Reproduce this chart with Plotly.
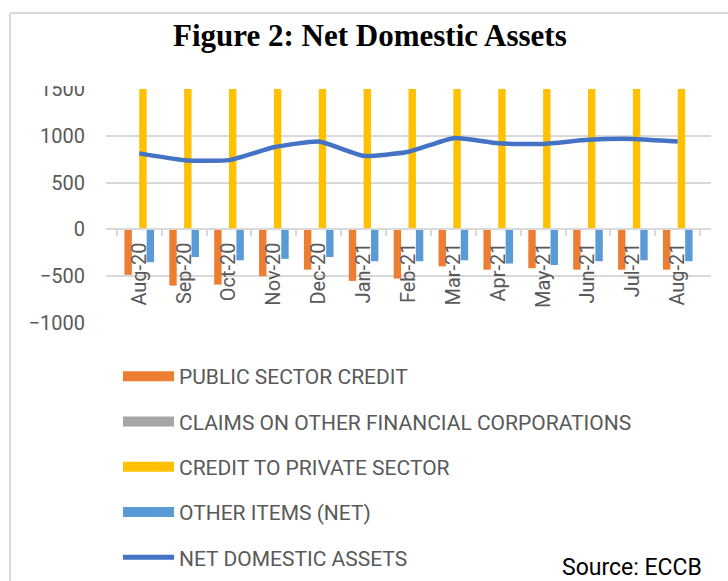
import plotly.graph_objects as go

# ---------------- data ----------------
months = ["Aug-20", "Sep-20", "Oct-20", "Nov-20", "Dec-20", "Jan-21", "Feb-21",
          "Mar-21", "Apr-21", "May-21", "Jun-21", "Jul-21", "Aug-21"]
public_sector_credit = [-485, -600, -590, -500, -430, -550, -525, -395, -430, -415, -430, -430, -430]
claims_other_fin = [3, 3, 3, 3, 3, 3, 3, 3, 3, 3, 3, 3, 3]
credit_private = [1650, 1630, 1660, 1690, 1660, 1675, 1695, 1700, 1715, 1708, 1727, 1727, 1708]
other_items = [-350, -295, -330, -315, -295, -340, -340, -330, -365, -380, -340, -330, -340]
net_domestic_assets = [812, 740, 740, 877, 938, 786, 829, 975, 920, 913, 957, 967, 938]
y_ticks = [-1000, -500, 0, 500, 1000, 1500]

# ---------------- layout geometry ----------------
W, H = 728, 581
ML, MR, MT, MB = 106, 17, 89, 258
PW, PH = W - ML - MR, H - MT - MB


def px(x):
    return (x - ML) / PW


def py(y):
    return (H - MB - y) / PH


C_PUB = "#ED7D31"
C_CLM = "#A5A5A5"
C_PRV = "#FFC000"
C_OTH = "#5B9BD5"
C_NDA = "#4472C4"
GRID = "#D9D9D9"
TXT = "#595959"
FONT = "Roboto"

fig = go.Figure()
bar_series = [
    ("PUBLIC SECTOR CREDIT", public_sector_credit, C_PUB),
    ("CLAIMS ON OTHER FINANCIAL CORPORATIONS", claims_other_fin, C_CLM),
    ("CREDIT TO PRIVATE SECTOR", credit_private, C_PRV),
    ("OTHER ITEMS (NET)", other_items, C_OTH),
]
for name, vals, col in bar_series:
    fig.add_trace(go.Bar(x=months, y=vals, name=name, marker=dict(color=col, line=dict(width=0)),
                         showlegend=False))

fig.add_trace(go.Scatter(x=months, y=net_domestic_assets, mode="lines", name="NET DOMESTIC ASSETS",
                         line=dict(color=C_NDA, width=4.5, shape="spline", smoothing=0.5),
                         showlegend=False))

# invisible carrier for the category axis drawn at the zero line
fig.add_trace(go.Scatter(x=months, y=net_domestic_assets, xaxis="x2", mode="markers",
                         marker=dict(size=0, opacity=0), hoverinfo="skip", showlegend=False))

# legend entries (wide rectangles like the original)
for i, (name, vals, col) in enumerate(bar_series):
    fig.add_trace(go.Scatter(x=[None], y=[None], mode="lines", name=name,
                             line=dict(color=col, width=13), legendgroup=f"g{i}",
                             legendrank=i + 1))
fig.add_trace(go.Scatter(x=[None], y=[None], mode="lines", name="NET DOMESTIC ASSETS",
                         line=dict(color=C_NDA, width=5), legendgroup="g4", legendrank=5))

fig.update_layout(
    width=W, height=H, autosize=False,
    margin=dict(l=ML, r=MR, t=MT, b=MB, pad=0, autoexpand=False),
    paper_bgcolor="white", plot_bgcolor="white",
    barmode="group", bargap=0.34, bargroupgap=0,
    font=dict(family=FONT, color=TXT, size=20),
    showlegend=True,
    legend=dict(x=px(118), y=py(356), xanchor="left", yanchor="top",
                orientation="v", itemwidth=51, tracegroupgap=15,
                font=dict(family=FONT, size=21, color=TXT),
                bgcolor="rgba(0,0,0,0)", borderwidth=0),
    xaxis=dict(type="category", showgrid=False, showline=False, ticks="",
               showticklabels=False, zeroline=False),
    xaxis2=dict(type="category", overlaying="x", matches="x", anchor="free", position=0.4,
                showgrid=False, showline=True, linecolor=GRID, linewidth=2,
                ticks="outside", tickson="boundaries", ticklen=6, tickcolor=GRID, tickwidth=2,
                tickangle=-90, ticklabelstandoff=4,
                tickfont=dict(family=FONT, size=20, color=TXT),
                zeroline=False),
    yaxis=dict(range=[-1000, 1500], tickvals=y_ticks, showgrid=True, gridcolor=GRID,
               gridwidth=2, zeroline=False, showline=False, ticks="",
               ticklabelstandoff=20,
               tickfont=dict(family=FONT, size=20, color=TXT)),
)

# title
fig.add_annotation(text="<b>Figure 2: Net Domestic Assets</b>", xref="paper", yref="paper",
                   x=px(369.5), y=py(36), xanchor="center", yanchor="middle", showarrow=False,
                   font=dict(family="Liberation Serif", size=31, color="black"))
# source
fig.add_annotation(text="Source: ECCB", xref="paper", yref="paper",
                   x=px(704), y=py(567), xanchor="right", yanchor="middle", showarrow=False,
                   font=dict(family=FONT, size=23, color="black"))

# frame (top and left edges) and clip of the top tick label
fig.add_shape(type="rect", xref="paper", yref="paper", x0=px(20), x1=px(102), y0=py(86), y1=py(60),
              fillcolor="white", line=dict(width=0), layer="above")
fig.add_shape(type="line", xref="paper", yref="paper", x0=px(10), x1=px(730), y0=py(13), y1=py(13),
              line=dict(color=GRID, width=2), layer="above")
fig.add_shape(type="line", xref="paper", yref="paper", x0=px(10), x1=px(10), y0=py(13), y1=py(585),
              line=dict(color=GRID, width=2), layer="above")

fig.write_html("out.html", config={"displayModeBar": False},
               post_script="document.body.style.margin='0';document.body.style.padding='0';"
                           "document.body.style.overflow='hidden';")
